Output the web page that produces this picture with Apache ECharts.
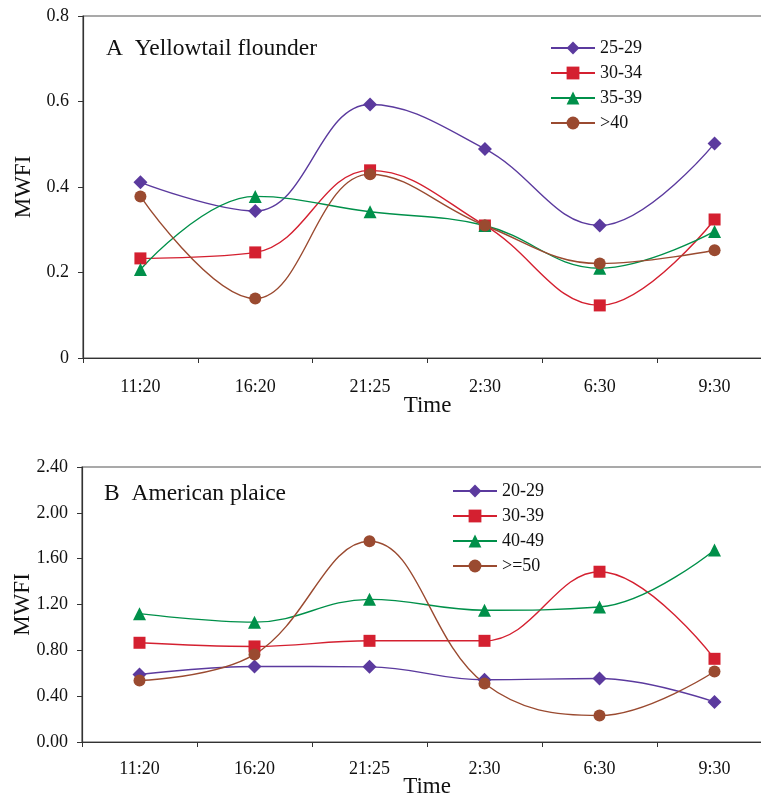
<!DOCTYPE html>
<html><head><meta charset="utf-8">
<script src="https://cdn.jsdelivr.net/npm/echarts@6/dist/echarts.min.js"></script>
<style>html,body{margin:0;padding:0;background:#fff;overflow:hidden}#c{width:776px;height:796px}</style>
</head><body><div id="c"></div>
<script>
var times = ['11:20','16:20','21:25','2:30','6:30','9:30'];
var namesA = ['25-29','30-34','35-39','>40'];
var a1 = [0.411,0.344,0.593,0.489,0.310,0.502];
var a2 = [0.233,0.247,0.439,0.310,0.123,0.324];
var a3 = [0.207,0.378,0.342,0.310,0.210,0.296];
var a4 = [0.378,0.139,0.430,0.310,0.221,0.252];
var namesB = ['20-29','30-39','40-49','>=50'];
var b1 = [0.589,0.659,0.656,0.543,0.554,0.350];
var b2 = [0.866,0.834,0.883,0.883,1.486,0.726];
var b3 = [1.120,1.046,1.245,1.150,1.178,1.676];
var b4 = [0.537,0.764,1.752,0.510,0.231,0.615];
var ticksA = [0,0.2,0.4,0.6,0.8];
var ticksB = [0,0.4,0.8,1.2,1.6,2.0,2.4];

var colors = ['#5b3a9e','#d42030','#00904a','#9a4a30'];
var symbols = ['diamond','rect','triangle','circle'];
var symSizes = [14,12,13,12];
var FONT = '"Liberation Serif","DejaVu Serif",serif';

function mkSeries(name, data, i, gi){
  return {
    name: name, type: 'line', data: data,
    xAxisIndex: gi, yAxisIndex: gi,
    smooth: 0.4, symbol: symbols[i], symbolSize: symSizes[i],
    itemStyle: {color: colors[i]},
    lineStyle: {color: colors[i], width: 1.4},
    emphasis: {disabled: true}, animation: false
  };
}
function xAx(gi, labelMargin, nameGap){
  return {
    type: 'category', data: times, gridIndex: gi, boundaryGap: true,
    axisLine: {lineStyle: {color: '#333', width: 1.2}},
    axisTick: {show: true, length: 5, lineStyle: {color: '#333'}},
    axisLabel: {color: '#111', fontFamily: FONT, fontSize: 18, margin: labelMargin},
    name: 'Time', nameLocation: 'middle', nameGap: nameGap, nameMoveOverlap: false,
    nameTextStyle: {color: '#111', fontFamily: FONT, fontSize: 23, lineHeight: 23}
  };
}
function yAx(gi, max, interval, dec){
  return {
    type: 'value', gridIndex: gi, min: 0, max: max, interval: interval,
    splitLine: {show: false},
    axisLine: {show: true, lineStyle: {color: '#333', width: 1.2}},
    axisTick: {show: true, length: 5, lineStyle: {color: '#333'}},
    axisLabel: {color: '#111', fontFamily: FONT, fontSize: 18, margin: 14,
      formatter: function(v){ return dec ? v.toFixed(dec) : String(Math.round(v*10)/10); }},
    name: 'MWFI', nameLocation: 'middle', nameRotate: 90, nameGap: 48, nameMoveOverlap: false,
    nameTextStyle: {color: '#111', fontFamily: FONT, fontSize: 23}
  };
}
var legendCommon = {
  orient: 'vertical', itemWidth: 44, itemHeight: 16, itemGap: 5, padding: 0,
  textStyle: {color: '#111', fontFamily: FONT, fontSize: 18, lineHeight: 20},
  selectedMode: false
};
var option = {
  backgroundColor: '#fff',
  animation: false,
  title: [
    {text: 'A  Yellowtail flounder', left: 106, top: 37, padding: 0, textStyle: {color: '#111', fontFamily: FONT, fontSize: 23.5, fontWeight: 'normal'}},
    {text: 'B  American plaice', left: 104, top: 482, padding: 0, textStyle: {color: '#111', fontFamily: FONT, fontSize: 23.5, fontWeight: 'normal'}}
  ],
  grid: [
    {left: 83, right: 4, top: 16, bottom: 438, show: true, borderColor: '#555', borderWidth: 1.2, containLabel: false, outerBoundsMode: 'none'},
    {left: 82, right: 4, top: 467, bottom: 54, show: true, borderColor: '#555', borderWidth: 1.2, containLabel: false, outerBoundsMode: 'none'}
  ],
  xAxis: [xAx(0, 20, 36), xAx(1, 18.5, 33)],
  yAxis: [yAx(0, ticksA[ticksA.length-1], ticksA[1], 0), yAx(1, ticksB[ticksB.length-1], ticksB[1], 2)],
  legend: [
    Object.assign({data: namesA, left: 550, top: 38}, legendCommon),
    Object.assign({data: namesB, left: 452, top: 481}, legendCommon)
  ],
  series: [
    mkSeries(namesA[0], a1, 0, 0), mkSeries(namesA[1], a2, 1, 0),
    mkSeries(namesA[2], a3, 2, 0), mkSeries(namesA[3], a4, 3, 0),
    mkSeries(namesB[0], b1, 0, 1), mkSeries(namesB[1], b2, 1, 1),
    mkSeries(namesB[2], b3, 2, 1), mkSeries(namesB[3], b4, 3, 1)
  ]
};
var chart = echarts.init(document.getElementById('c'), null, {renderer: 'canvas'});
chart.setOption(option);
</script></body></html>
